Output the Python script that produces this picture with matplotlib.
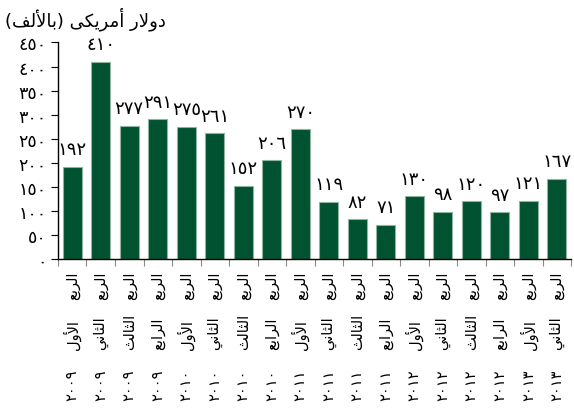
import re
import matplotlib
matplotlib.use("Agg")
import matplotlib.pyplot as plt
import matplotlib.transforms as mtransforms

plt.rcParams['font.family'] = ['DejaVu Sans']

# data
quarters = ['الأول', 'الثاني', 'الثالث', 'الرابع']
bar_quarters = [0, 1, 2, 3, 0, 1, 2, 3, 0, 1, 2, 3, 0, 1, 2, 3, 0, 1]
bar_years = [2009] * 4 + [2010] * 4 + [2011] * 4 + [2012] * 4 + [2013] * 2
values = [192, 410, 277, 291, 275, 261, 152, 206, 270, 119, 82, 71, 130, 98, 120, 97, 121, 167]
yticks = [0, 50, 100, 150, 200, 250, 300, 350, 400, 450]
title = 'دولار أمريكى (بالألف)'
quarter_word = 'الربع'

BAR_COLOR = '#005230'
EDGE_COLOR = '#8fb5a0'

# matplotlib does no arabic shaping / bidi, so do a small version by hand
# (isolated, final, initial, medial)
FORMS = {
    'ا': ('\uFE8D', '\uFE8E', None, None),
    'أ': ('\uFE83', '\uFE84', None, None),
    'ب': ('\uFE8F', '\uFE90', '\uFE91', '\uFE92'),
    'ث': ('\uFE99', '\uFE9A', '\uFE9B', '\uFE9C'),
    'د': ('\uFEA9', '\uFEAA', None, None),
    'ر': ('\uFEAD', '\uFEAE', None, None),
    'ع': ('\uFEC9', '\uFECA', '\uFECB', '\uFECC'),
    'ف': ('\uFED1', '\uFED2', '\uFED3', '\uFED4'),
    'ك': ('\uFED9', '\uFEDA', '\uFEDB', '\uFEDC'),
    'ل': ('\uFEDD', '\uFEDE', '\uFEDF', '\uFEE0'),
    'م': ('\uFEE1', '\uFEE2', '\uFEE3', '\uFEE4'),
    'ن': ('\uFEE5', '\uFEE6', '\uFEE7', '\uFEE8'),
    'و': ('\uFEED', '\uFEEE', None, None),
    'ي': ('\uFEF1', '\uFEF2', '\uFEF3', '\uFEF4'),
    'ى': ('\uFEEF', '\uFEF0', None, None),
}
LAM_ALEF = {'ا': ('\uFEFB', '\uFEFC'), 'أ': ('\uFEF7', '\uFEF8')}
DIGITS = str.maketrans('0123456789', '٠١٢٣٤٥٦٧٨٩')


def shape(word):
    tokens = []
    i = 0
    while i < len(word):
        if word[i] == 'ل' and i + 1 < len(word) and word[i + 1] in LAM_ALEF:
            tokens.append(('LA', word[i + 1]))
            i += 2
        else:
            tokens.append((word[i], None))
            i += 1

    def joins_prev(t):
        return t[0] == 'LA' or t[0] in FORMS

    def joins_next(t):
        return t[0] in FORMS and FORMS[t[0]][2] is not None

    out = ''
    for k, t in enumerate(tokens):
        p = k > 0 and joins_next(tokens[k - 1]) and joins_prev(t)
        n = k < len(tokens) - 1 and joins_next(t) and joins_prev(tokens[k + 1])
        if t[0] == 'LA':
            out += LAM_ALEF[t[1]][1 if p else 0]
        elif t[0] in FORMS:
            iso, fin, ini, med = FORMS[t[0]]
            if p and n:
                out += med
            elif p:
                out += fin
            elif n:
                out += ini
            else:
                out += iso
        else:
            out += t[0]
    return out


def visual(text):
    shaped = ' '.join(shape(w) for w in text.split(' '))
    rev = shaped[::-1].translate(str.maketrans('()', ')('))
    return re.sub('[٠-٩]+', lambda m: m.group(0)[::-1], rev)


def ar_num(v):
    return str(v).translate(DIGITS)


fig = plt.figure(figsize=(5.74, 4.10), dpi=100)
ax = fig.add_axes([0.101, 0.366, 0.894, 0.528])

x = list(range(len(values)))
bars = ax.bar(x, values, width=0.67, color=BAR_COLOR, edgecolor=EDGE_COLOR, linewidth=0.8)

for xi, v in zip(x, values):
    ax.annotate(ar_num(v), (xi, v), xytext=(0, 6), textcoords='offset points',
                ha='center', va='bottom', fontsize=13)

ax.set_xlim(-0.5, len(values) - 0.5)
ax.set_ylim(0, 450)
ax.set_yticks(yticks)
ax.set_yticklabels([ar_num(t) for t in yticks], fontsize=12.5)
ax.set_xticks([i - 0.5 for i in range(len(values) + 1)])
ax.set_xticklabels([])
ax.tick_params(axis='y', length=5, width=0.8, pad=3)
ax.tick_params(axis='x', length=5, width=0.8, color='#888888')
ax.spines['top'].set_visible(False)
ax.spines['right'].set_visible(False)
ax.spines['left'].set_linewidth(1.0)
ax.spines['bottom'].set_linewidth(1.0)

# category labels: three rotated rows under each bar
trans = mtransforms.blended_transform_factory(ax.transData, fig.transFigure)
row_bottoms = [1 - 300 / 410, 1 - 350 / 410, 1 - 401 / 410]
for xi, q, yr in zip(x, bar_quarters, bar_years):
    parts = [visual(quarter_word), visual(quarters[q]), ar_num(yr)]
    for part, yb in zip(parts, row_bottoms):
        ax.text(xi, yb, part, transform=trans, rotation=90, ha='center', va='bottom',
                fontsize=10.5, clip_on=False)

fig.text(5 / 574, 1 - 7 / 410, visual(title), ha='left', va='top', fontsize=13)

fig.savefig('out.png', dpi=100)
